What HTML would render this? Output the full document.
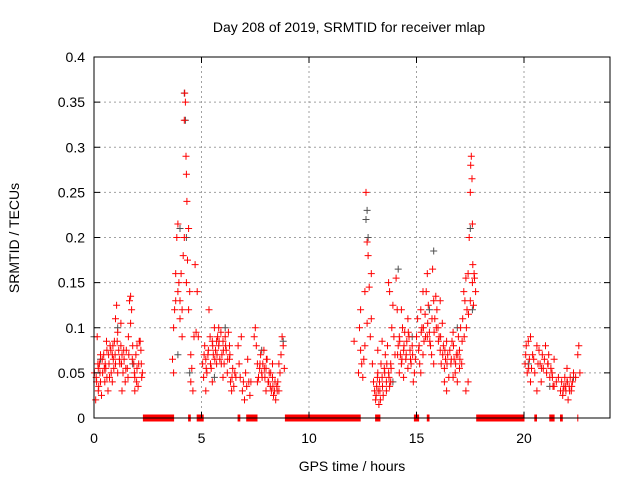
<!DOCTYPE html>
<html><head><meta charset="utf-8"><style>
body{margin:0;background:#fff}
svg{display:block;font-family:"Liberation Sans",sans-serif}
</style></head><body>
<svg id="chart" width="640" height="480" viewBox="0 0 640 480">
<rect width="640" height="480" fill="#fff"/>
<text x="349" y="32" font-size="14" text-anchor="middle">Day 208 of 2019, SRMTID for receiver mlap</text>
<g id="grid"></g>
<g id="marks"></g>
<g id="axes"></g>
<text x="352" y="471" font-size="14" text-anchor="middle">GPS time / hours</text>
<text transform="translate(19,238) rotate(-90)" font-size="14" text-anchor="middle">SRMTID / TECUs</text>
</svg>
<script>
const xTicks=[0,5,10,15,20];
const yTicks=[0,0.05,0.1,0.15,0.2,0.25,0.3,0.35,0.4];
const yTickLabels=["0","0.05","0.1","0.15","0.2","0.25","0.3","0.35","0.4"];
const redHours=[0.02,0.1,0.15,0.2,0.25,0.3,0.35,0.4,0.45,0.5,0.55,0.6,0.65,0.7,0.75,0.8,0.85,0.9,0.95,1.0,1.05,1.1,1.15,1.2,1.25,1.3,1.35,1.4,1.45,1.5,1.55,1.6,1.65,1.7,1.75,1.8,1.85,1.9,1.95,2.0,2.05,2.1,2.15,2.2,2.25,0.08,0.3,0.6,0.85,1.0,1.1,1.25,1.7,1.9,2.0,1.3,0.2,
0.12,0.18,0.22,0.28,0.38,0.48,0.52,0.58,0.68,0.72,0.78,0.88,0.92,0.98,1.08,1.18,1.28,1.38,1.48,1.58,1.62,1.78,1.88,1.98,2.08,2.18,2.22,
3.65,3.7,3.75,3.8,3.85,3.9,3.95,4.0,4.05,4.1,4.15,4.2,4.22,4.25,4.28,4.3,4.32,4.35,4.4,4.45,4.5,4.55,4.6,4.65,4.7,4.75,4.8,4.85,3.7,3.9,4.1,4.2,4.3,4.4,4.5,3.8,4.0,
5.05,5.1,5.15,5.2,5.25,5.3,5.35,5.4,5.45,5.5,5.55,5.6,5.65,5.7,5.75,5.8,5.85,5.9,5.95,6.0,6.05,6.1,6.15,6.2,6.25,6.3,6.35,6.4,6.45,6.5,6.55,6.6,5.2,5.5,5.8,6.0,6.3,5.7,
5.12,5.22,5.32,5.42,5.52,5.62,5.72,5.82,5.92,6.02,6.12,6.22,6.32,6.42,
6.7,6.75,6.8,6.85,6.9,6.95,7.0,7.05,7.1,7.15,7.2,7.25,7.3,
7.45,7.5,7.55,7.6,7.65,7.7,7.75,7.8,7.85,7.9,7.95,8.0,8.05,8.1,8.15,8.2,8.25,8.3,8.35,8.4,8.45,8.5,8.55,8.6,8.65,8.7,8.75,8.8,8.85,7.6,8.0,8.3,8.6,
7.72,7.82,7.92,8.02,8.12,8.22,8.32,8.42,8.52,
12.1,12.3,12.35,12.4,12.45,12.5,12.55,12.6,12.65,12.7,12.75,12.8,12.85,12.9,12.95,12.4,12.7,12.6,12.9,
13.0,13.05,13.1,13.15,13.2,13.25,13.3,13.35,13.4,13.45,13.5,13.55,13.6,13.65,13.7,13.75,13.8,13.85,13.9,13.95,14.0,13.2,13.4,13.6,13.8,13.7,13.75,
13.12,13.18,13.22,13.28,13.32,13.42,13.52,13.62,13.72,13.82,
14.05,14.1,14.15,14.2,14.25,14.3,14.35,14.4,14.45,14.5,14.55,14.6,14.65,14.7,14.75,14.8,14.85,14.9,14.95,14.2,14.4,14.6,14.3,
14.12,14.22,14.32,14.42,14.52,14.62,14.72,14.82,
15.0,15.05,15.1,15.15,15.2,15.25,15.3,15.35,15.4,15.45,15.5,15.55,15.6,15.65,15.7,15.75,15.8,15.85,15.9,15.95,16.0,16.05,16.1,16.15,16.2,16.25,16.3,16.35,16.4,16.45,16.5,15.2,15.5,15.8,16.1,16.3,15.3,16.4,
15.12,15.22,15.32,15.42,15.52,15.62,15.72,15.82,15.92,16.02,16.12,16.22,16.32,16.42,
16.55,16.6,16.65,16.7,16.75,16.8,16.85,16.9,16.95,17.0,17.05,17.1,17.15,17.2,17.25,17.3,17.35,17.4,17.45,17.5,17.52,17.55,17.58,17.6,17.62,17.65,17.7,17.75,16.7,17.0,17.3,17.4,17.5,17.6,
16.62,16.72,16.82,16.92,17.02,17.12,17.22,17.32,17.42,17.68,
20.05,20.1,20.15,20.2,20.25,20.3,20.35,20.4,20.5,20.6,20.7,20.75,20.8,20.85,20.9,20.95,21.0,20.3,20.6,
21.05,21.1,21.15,21.2,21.25,21.3,21.35,21.4,21.5,21.6,21.7,21.75,21.8,21.85,21.9,21.95,22.0,22.05,22.1,22.15,22.2,22.25,22.3,22.4,22.5,22.55,22.6,21.4,22.0,
20.08,20.22,20.45,20.65,20.82,21.12,21.32,21.82,21.92,22.02,22.12,22.22];
const redValues=[0.05,0.045,0.09,0.03,0.06,0.04,0.025,0.05,0.07,0.04,0.055,0.075,0.03,0.06,0.08,0.05,0.07,0.065,0.085,0.11,0.125,0.095,0.075,0.06,0.08,0.07,0.05,0.065,0.04,0.075,0.055,0.09,0.13,0.135,0.12,0.08,0.06,0.045,0.07,0.055,0.035,0.085,0.085,0.06,0.05,0.02,0.07,0.045,0.04,0.06,0.05,0.105,0.105,0.03,0.08,0.03,0.055,
0.04,0.06,0.035,0.05,0.065,0.055,0.06,0.085,0.07,0.045,0.075,0.08,0.055,0.07,0.085,0.065,0.06,0.075,0.055,0.045,0.07,0.065,0.05,0.04,0.06,0.075,0.045,
0.065,0.1,0.12,0.16,0.2,0.215,0.15,0.13,0.16,0.12,0.18,0.33,0.36,0.35,0.29,0.27,0.24,0.175,0.21,0.14,0.07,0.055,0.03,0.09,0.17,0.095,0.14,0.09,0.05,0.14,0.09,0.2,0.15,0.12,0.04,0.13,0.11,
0.06,0.045,0.08,0.065,0.05,0.07,0.12,0.09,0.055,0.085,0.07,0.1,0.075,0.06,0.09,0.08,0.065,0.095,0.07,0.085,0.06,0.09,0.075,0.05,0.095,0.065,0.04,0.03,0.055,0.035,0.05,0.045,0.03,0.04,0.1,0.045,0.08,0.085,
0.07,0.055,0.075,0.06,0.08,0.065,0.07,0.085,0.06,0.075,0.08,0.065,0.07,0.045,
0.08,0.06,0.045,0.09,0.03,0.04,0.02,0.05,0.035,0.065,0.04,0.025,0.04,
0.09,0.1,0.08,0.06,0.045,0.055,0.07,0.05,0.06,0.075,0.045,0.055,0.065,0.04,0.05,0.035,0.03,0.045,0.025,0.03,0.02,0.035,0.04,0.06,0.05,0.07,0.09,0.08,0.055,0.04,0.03,0.06,0.03,
0.06,0.045,0.055,0.065,0.04,0.05,0.035,0.04,0.03,
0.085,0.05,0.1,0.12,0.06,0.045,0.065,0.14,0.25,0.195,0.18,0.145,0.09,0.11,0.06,0.075,0.105,0.08,0.16,
0.04,0.03,0.02,0.035,0.05,0.015,0.03,0.06,0.045,0.025,0.055,0.07,0.04,0.08,0.05,0.035,0.06,0.1,0.125,0.09,0.07,0.075,0.085,0.03,0.04,0.15,0.14,
0.025,0.045,0.03,0.04,0.02,0.035,0.05,0.06,0.045,0.055,
0.155,0.12,0.08,0.09,0.07,0.06,0.1,0.075,0.095,0.065,0.085,0.11,0.09,0.075,0.06,0.08,0.04,0.05,0.065,0.05,0.045,0.055,0.12,
0.07,0.085,0.065,0.08,0.07,0.095,0.065,0.07,
0.09,0.11,0.075,0.06,0.12,0.1,0.07,0.085,0.115,0.14,0.16,0.125,0.095,0.08,0.07,0.165,0.13,0.11,0.135,0.12,0.1,0.09,0.075,0.06,0.105,0.08,0.055,0.065,0.085,0.07,0.045,0.05,0.09,0.06,0.13,0.04,0.14,0.03,
0.08,0.095,0.1,0.09,0.105,0.085,0.11,0.095,0.1,0.085,0.09,0.07,0.075,0.06,
0.075,0.06,0.085,0.095,0.065,0.05,0.07,0.04,0.09,0.075,0.1,0.06,0.11,0.14,0.13,0.155,0.12,0.16,0.2,0.25,0.28,0.29,0.265,0.215,0.17,0.125,0.155,0.14,0.045,0.055,0.03,0.04,0.13,0.15,
0.065,0.08,0.06,0.07,0.065,0.085,0.09,0.1,0.115,0.16,
0.06,0.08,0.05,0.085,0.065,0.04,0.055,0.07,0.05,0.08,0.075,0.06,0.04,0.07,0.055,0.065,0.08,0.09,0.03,
0.05,0.06,0.07,0.045,0.055,0.05,0.035,0.065,0.04,0.045,0.03,0.04,0.025,0.035,0.045,0.03,0.04,0.02,0.035,0.045,0.03,0.04,0.05,0.045,0.07,0.08,0.05,0.035,0.055,
0.07,0.055,0.065,0.06,0.055,0.06,0.045,0.03,0.035,0.04,0.03,0.035];
const zeroStarts=[2.3,4.4,4.8,6.7,7.1,8.9,13.1,14.9,15.5,17.8,20.5,21.2,21.7,22.5];
const zeroEnds=[3.7,4.5,5.1,6.8,7.6,12.4,13.3,15.1,15.6,20.0,20.6,21.4,21.8,22.5];
const grayHours=[0.0,0.3,1.1,1.8,3.9,4.0,4.2,4.25,4.3,4.45,5.6,6.1,7.8,8.8,12.65,12.7,12.75,13.9,14.15,14.8,15.6,15.8,16.9,17.5,17.6,20.2,21.2,22.3];
const grayValues=[0.09,0.065,0.1,0.06,0.07,0.21,0.36,0.33,0.2,0.05,0.045,0.1,0.075,0.085,0.22,0.23,0.2,0.04,0.165,0.09,0.12,0.185,0.1,0.21,0.12,0.06,0.035,0.045];

const X0=94,X1=610,Y0=418,Y1=57,XMAX=24,YMAX=0.4;
const xs=h=>X0+h/XMAX*(X1-X0);
const ys=v=>Y0-v/YMAX*(Y0-Y1);
const NS="http://www.w3.org/2000/svg";
function mk(tag,attrs,parent){const e=document.createElementNS(NS,tag);for(const k in attrs)e.setAttribute(k,attrs[k]);parent.appendChild(e);return e;}
const grid=document.getElementById('grid'),marks=document.getElementById('marks'),axes=document.getElementById('axes');
yTicks.forEach((t,i)=>{
  const y=ys(t);
  if(t>0&&t<YMAX){const g=mk('line',{x1:X0,x2:X1,y1:y,y2:y,stroke:'#a0a0a0','stroke-dasharray':'2,3'},grid);
  
  }
  const tk=mk('path',{d:`M${X0},${y}h6M${X1},${y}h-6`,stroke:'#000'},axes);
  
  
  const tx=mk('text',{x:X0-9,y:y+5,'font-size':14,'text-anchor':'end'},axes);
  tx.textContent=yTickLabels[i];
  
  
});
xTicks.forEach(t=>{
  const x=xs(t);
  if(t>0){const g=mk('line',{x1:x,x2:x,y1:Y0,y2:Y1,stroke:'#a0a0a0','stroke-dasharray':'2,3'},grid);
  
  }
  const tk=mk('path',{d:`M${x},${Y0}v-6M${x},${Y1}v6`,stroke:'#000'},axes);
  
  
  const tx=mk('text',{x:x,y:Y0+25,'font-size':14,'text-anchor':'middle'},axes);
  tx.textContent=String(t);
  
  
});
const frame=mk('rect',{x:X0,y:Y1,width:X1-X0,height:Y0-Y1,fill:'none',stroke:'#000'},axes);


function plus(h,v){
  const x=xs(h),y=ys(v);
  return `M${(x-3.5).toFixed(1)},${y.toFixed(1)}h7M${x.toFixed(1)},${(y-3.5).toFixed(1)}v7`;
}
let gd='';grayHours.forEach((h,i)=>{gd+=plus(h,grayValues[i]);});
const gp=mk('path',{d:gd,stroke:'#505050','stroke-width':1,fill:'none'},marks);


let rd='';redHours.forEach((h,i)=>{rd+=plus(h,redValues[i]);});
zeroStarts.forEach((s,i)=>{for(let h=s;h<=zeroEnds[i]+1e-9;h+=0.04)rd+=plus(h,0);});
const rp=mk('path',{d:rd,stroke:'#ff0000','stroke-width':1,fill:'none'},marks);


</script>
</body></html>
